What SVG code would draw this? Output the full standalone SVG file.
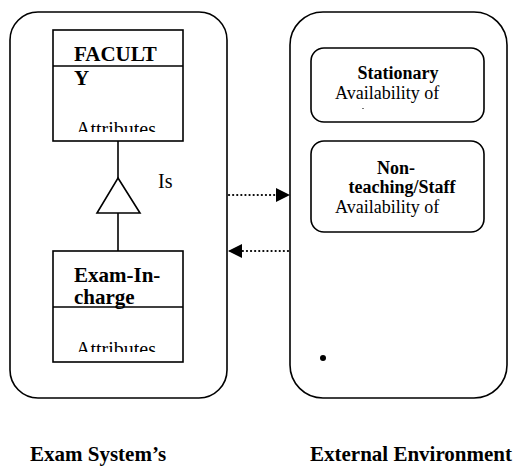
<svg xmlns="http://www.w3.org/2000/svg" width="514" height="466" viewBox="0 0 514 466">
  <style>
    .frame { fill: #fff; stroke: #000; stroke-width: 1.6; }
    .cls { fill: #fff; stroke: #000; stroke-width: 1.6; }
    .line { fill: none; stroke: #000; stroke-width: 1.6; }
    .dots { fill: none; stroke: #000; stroke-width: 2.2; stroke-dasharray: 0.1 4; stroke-linecap: round; }
    .b { font-family: "Liberation Serif", "Times New Roman", serif; font-weight: bold; fill: #000; }
    .r { font-family: "Liberation Serif", "Times New Roman", serif; fill: #000; }
  </style>
  <defs>
    <marker id="head" viewBox="0 0 10 10" refX="10" refY="5" markerWidth="14" markerHeight="14" markerUnits="userSpaceOnUse" orient="auto">
      <path d="M0,0 L10,5 L0,10 Z" fill="#000"/>
    </marker>
    <clipPath id="clipFacAttr"><rect x="53" y="100" width="130" height="32"/></clipPath>
    <clipPath id="clipExamAttr"><rect x="53" y="320" width="130" height="32"/></clipPath>
  </defs>

  <!-- system boundary frames -->
  <g id="exam-system">
    <rect class="frame" x="10" y="12" width="217" height="386" rx="28" ry="28"/>
  </g>
  <g id="external-environment">
    <rect class="frame" x="290" y="12" width="217" height="386" rx="33" ry="33"/>
    <circle cx="323" cy="358" r="3" fill="#000"/>
  </g>

  <!-- class: FACULTY -->
  <g id="faculty">
    <rect class="cls" x="53" y="30" width="130" height="111"/>
    <line class="line" x1="53" y1="66" x2="183" y2="66"/>
    <text class="b" x="74" y="61" font-size="21">FACULT</text>
    <text class="b" x="74" y="85" font-size="21">Y</text>
    <text class="r" x="76" y="136" font-size="20" clip-path="url(#clipFacAttr)">Attributes</text>
  </g>

  <!-- class: Exam-In-charge -->
  <g id="exam-in-charge">
    <rect class="cls" x="53" y="251" width="130" height="111"/>
    <line class="line" x1="53" y1="307" x2="183" y2="307"/>
    <text class="b" x="74" y="282" font-size="21">Exam-In-</text>
    <text class="b" x="74" y="304" font-size="21">charge</text>
    <text class="r" x="76" y="356" font-size="20" clip-path="url(#clipExamAttr)">Attributes</text>
  </g>

  <!-- resource: Stationary -->
  <g id="stationary">
    <rect class="cls" x="311" y="48" width="173" height="74" rx="13" ry="13"/>
    <text class="b" x="398" y="79" font-size="18" text-anchor="middle">Stationary</text>
    <text class="r" x="335" y="99" font-size="18">Availability of</text>
    <rect x="362" y="108" width="2" height="1" fill="#777"/>
  </g>

  <!-- resource: Non-teaching staff -->
  <g id="non-teaching-staff">
    <rect class="cls" x="311" y="141" width="173" height="91" rx="13" ry="13"/>
    <text class="b" x="396" y="174" font-size="18" text-anchor="middle">Non-</text>
    <text class="b" x="402" y="193" font-size="18" text-anchor="middle">teaching/Staff</text>
    <text class="r" x="335" y="213" font-size="18">Availability of</text>
  </g>

  <!-- connectors -->
  <g id="connectors">
    <!-- generalisation: Exam-In-charge is a FACULTY -->
    <line class="line" x1="118" y1="141" x2="118" y2="178"/>
    <path class="cls" d="M118,178 L140,213 L97,213 Z"/>
    <line class="line" x1="118" y1="213" x2="118" y2="251"/>
    <text class="r" x="158" y="188" font-size="20">Is</text>
    <!-- information flows between system and environment -->
    <line class="dots" x1="229" y1="195" x2="290" y2="195" marker-end="url(#head)"/>
    <line class="dots" x1="288" y1="251" x2="228" y2="251" marker-end="url(#head)"/>
  </g>

  <!-- captions -->
  <g id="captions">
    <text class="b" x="30" y="461" font-size="21">Exam System’s</text>
    <text class="b" x="310" y="461" font-size="21">External Environment</text>
  </g>
</svg>
